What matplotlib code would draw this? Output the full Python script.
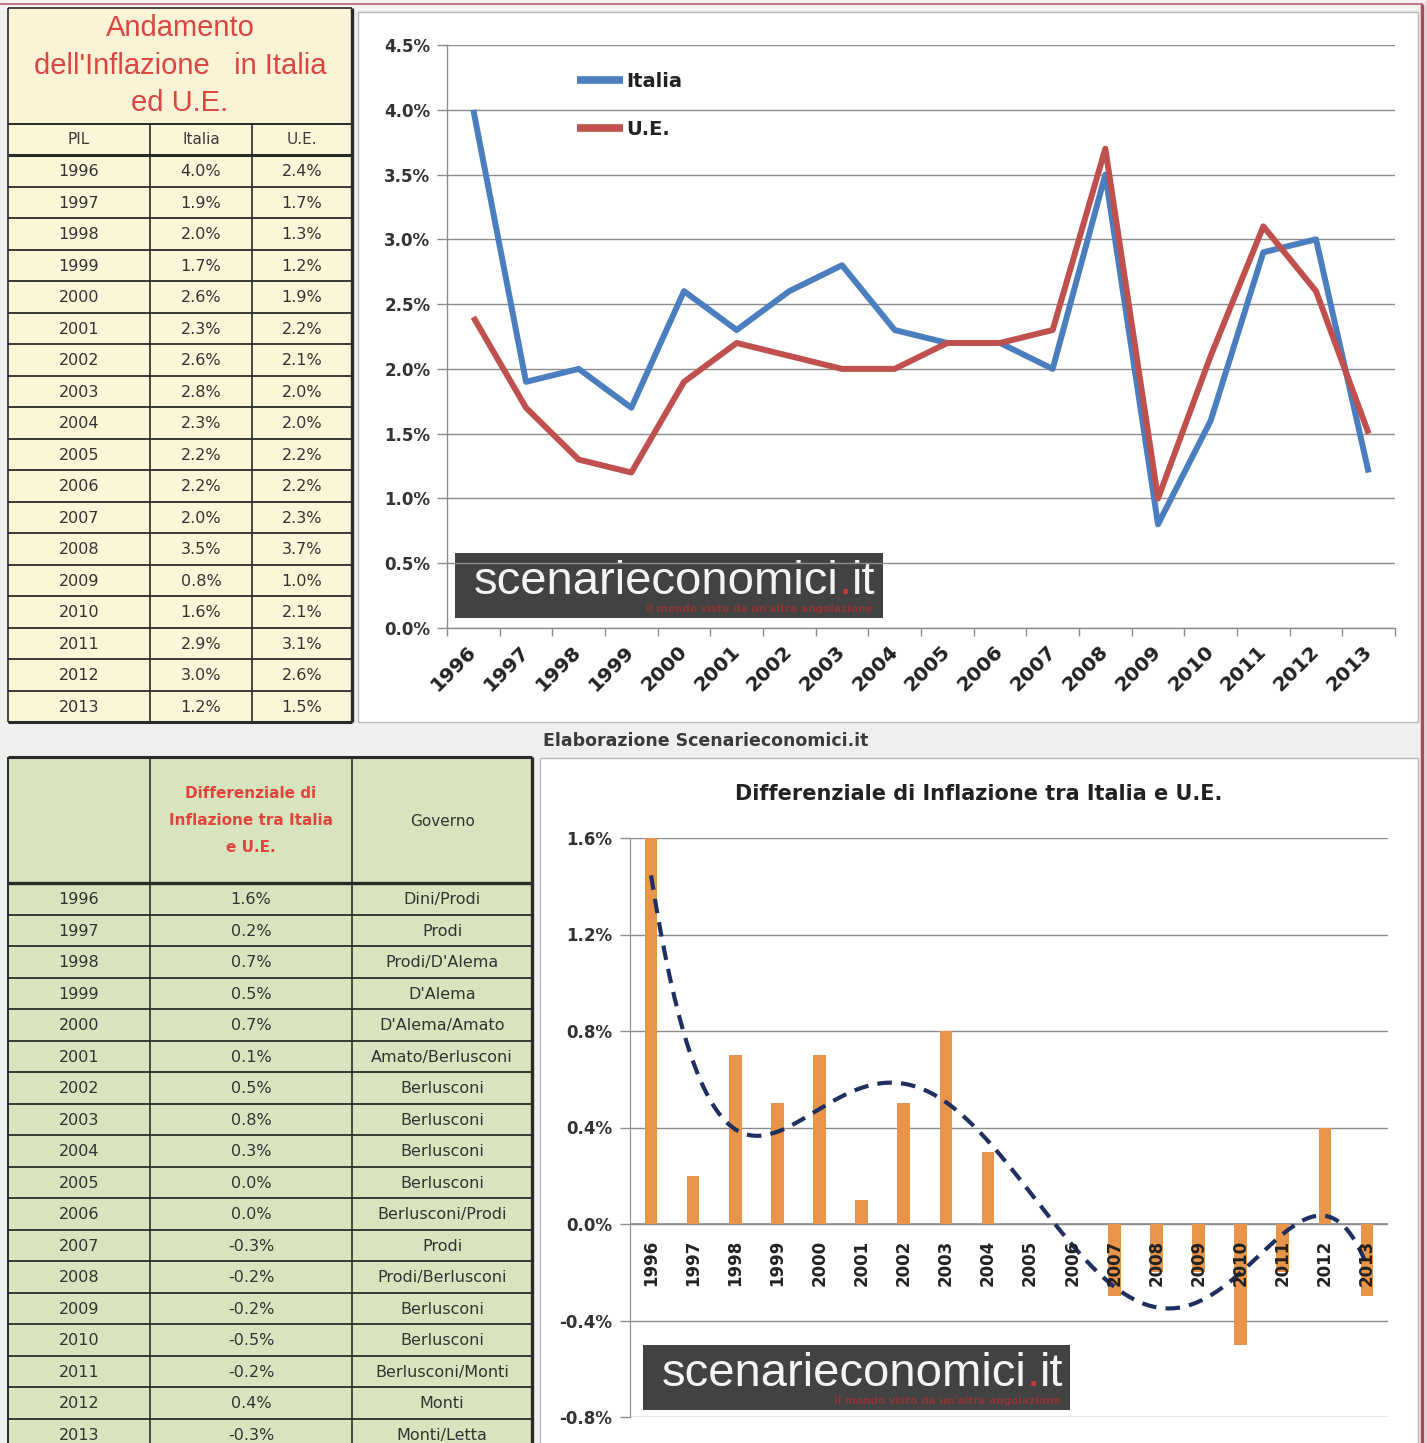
import numpy as np
import matplotlib
matplotlib.use('Agg')
import matplotlib.pyplot as plt
from matplotlib.patches import Rectangle
import matplotlib.transforms as mtransforms

# ---------------- data ----------------
years = ['1996', '1997', '1998', '1999', '2000', '2001', '2002', '2003', '2004',
         '2005', '2006', '2007', '2008', '2009', '2010', '2011', '2012', '2013']
italia = [4.0, 1.9, 2.0, 1.7, 2.6, 2.3, 2.6, 2.8, 2.3, 2.2, 2.2, 2.0, 3.5, 0.8, 1.6, 2.9, 3.0, 1.2]
ue = [2.4, 1.7, 1.3, 1.2, 1.9, 2.2, 2.1, 2.0, 2.0, 2.2, 2.2, 2.3, 3.7, 1.0, 2.1, 3.1, 2.6, 1.5]
diff = [1.6, 0.2, 0.7, 0.5, 0.7, 0.1, 0.5, 0.8, 0.3, 0.0, 0.0, -0.3, -0.2, -0.2, -0.5, -0.2, 0.4, -0.3]
governo = ['Dini/Prodi', 'Prodi', "Prodi/D'Alema", "D'Alema", "D'Alema/Amato", 'Amato/Berlusconi',
           'Berlusconi', 'Berlusconi', 'Berlusconi', 'Berlusconi', 'Berlusconi/Prodi', 'Prodi',
           'Prodi/Berlusconi', 'Berlusconi', 'Berlusconi', 'Berlusconi/Monti', 'Monti', 'Monti/Letta']
top_yticks = [0.0, 0.5, 1.0, 1.5, 2.0, 2.5, 3.0, 3.5, 4.0, 4.5]
bot_yticks = [-0.8, -0.4, 0.0, 0.4, 0.8, 1.2, 1.6]
top_title = ["Andamento", "dell'Inflazione   in Italia", "ed U.E."]
top_header = ['PIL', 'Italia', 'U.E.']
bot_header_red = ['Differenziale di', 'Inflazione tra Italia', 'e U.E.']
bot_title = 'Differenziale di Inflazione tra Italia e U.E.'
credit = 'Elaborazione Scenarieconomici.it'
wm_main = 'scenarieconomici'
wm_tag = "il mondo visto da un'altra angolazione"

W, H = 1427, 1443
fig = plt.figure(figsize=(W / 100, H / 100), dpi=100)
fig.patch.set_facecolor('#f0efef')

# background / overlay axes in pixel coords
bg = fig.add_axes([0, 0, 1, 1], zorder=0)
bg.set_xlim(0, W)
bg.set_ylim(H, 0)
bg.axis('off')

def rect(x0, y0, x1, y1, fc, ec='none', lw=0, z=1):
    bg.add_patch(Rectangle((x0, y0), x1 - x0, y1 - y0, facecolor=fc, edgecolor=ec, linewidth=lw, zorder=z))

def hline(y, x0, x1, c='#2a2a2a', lw=1.2, z=3):
    bg.plot([x0, x1], [y, y], color=c, lw=lw, zorder=z, solid_capstyle='butt')

def vline(x, y0, y1, c='#2a2a2a', lw=1.2, z=3):
    bg.plot([x, x], [y0, y1], color=c, lw=lw, zorder=z, solid_capstyle='butt')

# outer frame
rect(0, 0, W, 10, '#f8f2f3')
hline(4, 0, 1423, c='#c07c88', lw=1.5)
vline(1422, 4, H, c='#a84c5c', lw=2.5)
vline(1426, 0, H, c='#e8d0d4', lw=2)

# chart panels
rect(358, 12, 1418, 722, 'white', ec='#b8b8b8', lw=1.0)
rect(540, 758, 1418, 1448, 'white', ec='#b8b8b8', lw=1.0)

# ---------------- top-left table ----------------
TX = [8, 150, 252, 352]
rect(8, 8, 352, 722, '#fbf6d8')
rect(8, 8, 352, 124, '#fbf3d6')
for k, line in enumerate(top_title):
    bg.text(180, 28 + k * 37.5, line, ha='center', va='center', fontsize=21,
            family='Liberation Sans', color='#dc4540', zorder=4)
rh = 31.5
hy = 124
for j, h in enumerate(top_header):
    bg.text((TX[j] + TX[j + 1]) / 2, hy + 16, h, ha='center', va='center', fontsize=11,
            family='DejaVu Sans', color='#3a3a3a', zorder=4)
y0 = 155
for i in range(len(years)):
    yc = y0 + rh * (i + 0.5)
    vals = [years[i], f'{italia[i]:.1f}%', f'{ue[i]:.1f}%']
    for j, v in enumerate(vals):
        bg.text((TX[j] + TX[j + 1]) / 2, yc + 1, v, ha='center', va='center', fontsize=11.5,
                family='DejaVu Sans', color='#333333', zorder=4)
    hline(y0 + rh * (i + 1), 8, 352, lw=1.3)
hline(124, 8, 352, lw=1.4)
hline(155, 8, 352, lw=2.2)
hline(8, 8, 352, lw=1.2)
for x in TX[1:3]:
    vline(x, 124, 722, lw=1.2)
vline(8, 8, 722, lw=1.2)
vline(352, 8, 722, lw=2.4)
hline(722, 8, 352, lw=2.2)

# credit line
bg.text(706, 741, credit, ha='center', va='center', fontsize=12.5, fontweight='bold',
        family='DejaVu Sans', color='#3a3a3a', zorder=4)

# ---------------- bottom-left table ----------------
BX = [8, 150, 352, 532]
rect(8, 757, 532, 1448, '#d8e4bd')
bh0 = 883
for k, line in enumerate(bot_header_red):
    bg.text(251, 794 + k * 26.5, line, ha='center', va='center', fontsize=11, fontweight='bold',
            family='DejaVu Sans', color='#e2433c', zorder=4)
bg.text(443, 821, 'Governo', ha='center', va='center', fontsize=11,
        family='DejaVu Sans', color='#333333', zorder=4)
for i in range(len(years)):
    yc = bh0 + rh * (i + 0.5)
    vals = [years[i], f'{diff[i]:.1f}%', governo[i]]
    for j, v in enumerate(vals):
        bg.text((BX[j] + BX[j + 1]) / 2, yc + 1, v, ha='center', va='center', fontsize=11.5,
                family='DejaVu Sans', color='#333333', zorder=4)
    hline(bh0 + rh * (i + 1), 8, 532, lw=1.3)
hline(757, 8, 532, lw=2.2)
hline(bh0, 8, 532, lw=2.4)
for x in BX[1:3]:
    vline(x, 757, H, lw=1.2)
vline(8, 757, H, lw=1.4)
vline(532, 757, H, lw=2.4)

# ---------------- top chart ----------------
def px_axes(x0, y0, x1, y1):
    return fig.add_axes([x0 / W, 1 - y1 / H, (x1 - x0) / W, (y1 - y0) / H], zorder=2)

x = np.arange(len(years))
ax1 = px_axes(447, 45, 1395, 628)
ax1.patch.set_alpha(0)
ax1.plot(x, italia, color='#4a7ebf', lw=4.3, label='Italia', solid_capstyle='butt', zorder=3)
ax1.plot(x, ue, color='#c0504d', lw=4.3, label='U.E.', solid_capstyle='butt', zorder=3)
ax1.set_xlim(-0.5, len(years) - 0.5)
ax1.set_ylim(0, 4.5)
ax1.set_yticks(top_yticks)
ax1.set_yticklabels([f'{v:.1f}%' for v in top_yticks], fontsize=12, fontweight='bold', color='#333333')
ax1.yaxis.grid(True, color='#8c8c8c', lw=1.0)
ax1.set_axisbelow(True)
ax1.tick_params(axis='y', length=7, color='#8c8c8c', width=1.0, pad=5)
ax1.set_xticks(x)
ax1.set_xticklabels(years, rotation=45, ha='right', va='center', rotation_mode='anchor',
                    fontsize=14.5, fontweight='bold', color='#222222')
ax1.tick_params(axis='x', which='major', length=0, pad=15)
ax1.set_xticks(np.arange(-0.5, len(years), 1.0), minor=True)
ax1.tick_params(axis='x', which='minor', length=6, color='#8c8c8c', width=1.0)
for s in ['top', 'right']:
    ax1.spines[s].set_visible(False)
for s in ['left', 'bottom']:
    ax1.spines[s].set_color('#8c8c8c')
    ax1.spines[s].set_linewidth(1.0)
leg = ax1.legend(loc='upper left', bbox_to_anchor=(577 / W, 1 - 72 / H), bbox_transform=fig.transFigure,
                 frameon=False, handlelength=2.35, handletextpad=0.2, labelspacing=1.5,
                 borderpad=0, borderaxespad=0, prop={'size': 14, 'weight': 'bold'})
for t in leg.get_texts():
    t.set_color('#222222')
for l in leg.get_lines():
    l.set_linewidth(5.5)

# ---------------- bottom chart ----------------
ax2 = px_axes(630, 838, 1388, 1417)
ax2.patch.set_alpha(0)
ax2.bar(x, diff, width=0.3, color='#e8944a', zorder=3)
coef = np.polyfit(x, diff, 6)
xs = np.linspace(0, len(years) - 1, 300)
ax2.plot(xs, np.polyval(coef, xs), color='#1f3060', lw=3.0, linestyle=(0, (3.5, 2.2)), zorder=4)
ax2.set_xlim(-0.5, len(years) - 0.5)
ax2.set_ylim(-0.8, 1.6)
ax2.set_yticks(bot_yticks)
ax2.set_yticklabels([f'{v:.1f}%' for v in bot_yticks], fontsize=12, fontweight='bold', color='#333333')
ax2.yaxis.grid(True, color='#8c8c8c', lw=1.0)
ax2.set_axisbelow(True)
ax2.tick_params(axis='y', length=7, color='#8c8c8c', width=1.0, pad=6)
ax2.set_xticks([])
for s in ['top', 'right', 'bottom']:
    ax2.spines[s].set_visible(False)
ax2.spines['left'].set_color('#8c8c8c')
ax2.axhline(0, color='#8c8c8c', lw=1.2, zorder=2)
off = mtransforms.ScaledTranslation(0, -0.16, fig.dpi_scale_trans)
for i, yr in enumerate(years):
    ax2.text(i, 0, yr, rotation=90, ha='center', va='top', fontsize=12, fontweight='bold',
             color='#222222', transform=ax2.transData + off, zorder=5, clip_on=False)
bg.text(979, 794, bot_title, ha='center', va='center', fontsize=15, fontweight='bold',
        family='DejaVu Sans', color='#222222', zorder=4)

# ---------------- watermarks ----------------
def watermark(x0, y0, x1, y1):
    rect(x0, y0, x1, y1, '#424242', z=6)
    yc = y0 + (y1 - y0) * 0.44
    t = bg.text(x0 + 19, yc, wm_main, ha='left', va='center', fontsize=34,
                family='Liberation Sans', color='#f4f4f4', zorder=7)
    fig.canvas.draw()
    inv = bg.transData.inverted()
    xe = inv.transform((t.get_window_extent().x1, 0))[0]
    d = bg.text(xe, yc, '.', ha='left', va='center', fontsize=34,
                family='Liberation Sans', color='#c83a3a', zorder=7)
    fig.canvas.draw()
    xe2 = inv.transform((d.get_window_extent().x1, 0))[0]
    bg.text(xe2, yc, 'it', ha='left', va='center', fontsize=34,
            family='Liberation Sans', color='#f4f4f4', zorder=7)
    bg.text(x1 - 10, y1 - 9, wm_tag, ha='right', va='center', fontsize=7.5, fontweight='bold',
            family='DejaVu Sans', color='#8a3636', zorder=7)

watermark(455, 553, 883, 618)
watermark(643, 1345, 1070, 1410)

fig.savefig('out.png', dpi=100, facecolor=fig.get_facecolor())
